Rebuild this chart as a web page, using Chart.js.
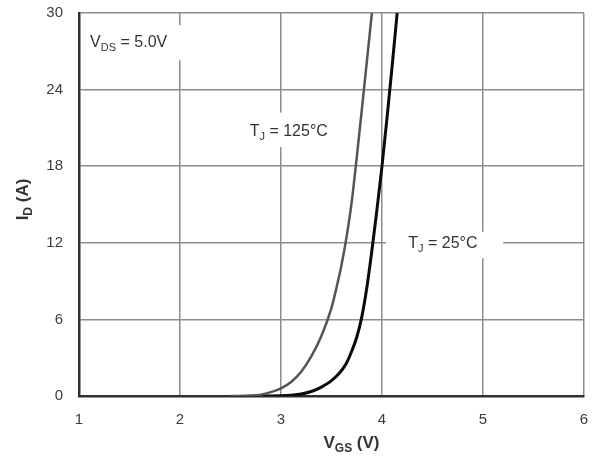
<!DOCTYPE html>
<html>
<head>
<meta charset="utf-8">
<script src="https://cdn.jsdelivr.net/npm/chart.js@4.4.1/dist/chart.umd.min.js"></script>
<style>
  html, body { margin: 0; padding: 0; background: #ffffff; }
  #wrap { width: 594px; height: 461px; }
</style>
</head>
<body>
<div id="wrap"><canvas id="c" width="594" height="461"></canvas></div>
<script>
// Axis ranges / tick labels
const vgsTicks = [1, 2, 3, 4, 5, 6];
const idTicks = [0, 6, 12, 18, 24, 30];

// Transfer characteristics, TJ = 125 °C
const vgs125 = [2.5, 2.7, 2.8, 2.9, 3.0, 3.1, 3.2, 3.3, 3.4, 3.5, 3.55, 3.6, 3.65, 3.7, 3.75, 3.8, 3.85, 3.9];
const id125  = [0, 0.03, 0.1, 0.3, 0.6, 1.1, 1.9, 3.1, 4.7, 6.9, 8.5, 10.3, 12.5, 15.2, 18.7, 22.4, 26.2, 30];

// Transfer characteristics, TJ = 25 °C
const vgs25 = [2.8, 3.0, 3.1, 3.2, 3.3, 3.4, 3.5, 3.6, 3.65, 3.7, 3.75, 3.8, 3.85, 3.9, 3.95, 4.0, 4.05, 4.1, 4.15];
const id25  = [0, 0.02, 0.06, 0.15, 0.35, 0.7, 1.2, 2.0, 2.6, 3.5, 4.6, 6.2, 8.5, 11.4, 14.6, 18, 21.8, 25.8, 30];

const toPoints = (xs, ys) => xs.map((x, k) => ({ x: x, y: ys[k] }));

const FONT = '"Liberation Sans", Arial, sans-serif';
const TEXT = '#333333';

// Text with subscripts: parts are [string, isSubscript]
function richWidth(ctx, parts, size, subSize, weight) {
  let w = 0;
  for (const [t, sub] of parts) {
    ctx.font = weight + ' ' + (sub ? subSize : size) + 'px ' + FONT;
    w += ctx.measureText(t).width;
  }
  return w;
}
function drawRich(ctx, parts, x, y, size, subSize, weight) {
  ctx.textBaseline = 'alphabetic';
  ctx.textAlign = 'left';
  let cx = x;
  for (const [t, sub] of parts) {
    ctx.font = weight + ' ' + (sub ? subSize : size) + 'px ' + FONT;
    ctx.fillText(t, cx, sub ? y + 4 : y);
    cx += ctx.measureText(t).width;
  }
}

// In-plot labels, anchored in data units, with white backing boxes
const notes = [
  { parts: [['V', 0], ['DS', 1], [' = 5.0V', 0]], at: [1.11, 27.3], box: [1.03, 2.12, 29.05, 26.3] },
  { parts: [['T', 0], ['J', 1], [' = 125\u00B0C', 0]], at: [2.69, 20.4], box: [2.61, 3.63, 22.2, 19.5] },
  { parts: [['T', 0], ['J', 1], [' = 25\u00B0C', 0]], at: [4.26, 11.6], box: [4.04, 5.2, 12.85, 10.8] }
];

const labelPlugin = {
  id: 'labels',
  beforeDatasetsDraw(chart) {
    const { ctx, scales: { x, y } } = chart;
    ctx.save();
    for (const n of notes) {
      const x0 = x.getPixelForValue(n.box[0]), x1 = x.getPixelForValue(n.box[1]);
      const y0 = y.getPixelForValue(n.box[2]), y1 = y.getPixelForValue(n.box[3]);
      ctx.fillStyle = '#ffffff';
      ctx.fillRect(x0, y0, x1 - x0, y1 - y0);
      ctx.fillStyle = TEXT;
      drawRich(ctx, n.parts, x.getPixelForValue(n.at[0]), y.getPixelForValue(n.at[1]), 16, 11, 'normal');
    }
    ctx.restore();
  },
  afterDraw(chart) {
    const { ctx, chartArea: a } = chart;
    ctx.save();
    ctx.fillStyle = TEXT;
    // x-axis title
    const xt = [['V', 0], ['GS', 1], [' (V)', 0]];
    const xw = richWidth(ctx, xt, 17, 12, 'bold');
    drawRich(ctx, xt, (a.left + a.right) / 2 + 20 - xw / 2, a.bottom + 52, 17, 12, 'bold');
    // y-axis title
    const yt = [['I', 0], ['D', 1], [' (A)', 0]];
    const yw = richWidth(ctx, yt, 17, 12, 'bold');
    ctx.translate(a.left - 51, (a.top + a.bottom) / 2 - 5);
    ctx.rotate(-Math.PI / 2);
    drawRich(ctx, yt, -yw / 2, 0, 17, 12, 'bold');
    ctx.restore();
  }
};

new Chart(document.getElementById('c'), {
  type: 'line',
  data: {
    datasets: [
      {
        label: 'TJ = 125\u00B0C',
        data: toPoints(vgs125, id125),
        borderColor: '#555555',
        borderWidth: 2.5,
        pointRadius: 0,
        cubicInterpolationMode: 'monotone',
        fill: false
      },
      {
        label: 'TJ = 25\u00B0C',
        data: toPoints(vgs25, id25),
        borderColor: '#0a0a0a',
        borderWidth: 3,
        pointRadius: 0,
        cubicInterpolationMode: 'monotone',
        fill: false
      }
    ]
  },
  options: {
    responsive: false,
    animation: false,
    devicePixelRatio: 1,
    layout: { padding: { top: 13, right: 10, left: 0, bottom: 0 } },
    plugins: {
      legend: { display: false },
      tooltip: { enabled: false }
    },
    scales: {
      x: {
        type: 'linear',
        min: vgsTicks[0],
        max: vgsTicks[vgsTicks.length - 1],
        afterBuildTicks: s => { s.ticks = vgsTicks.map(v => ({ value: v })); },
        afterFit: s => { s.height = 65; s.paddingLeft = 0; s.paddingRight = 0; },
        ticks: { color: '#3c3c3c', font: { family: FONT, size: 15 }, padding: 15, maxRotation: 0 },
        grid: { color: '#8c8c8c', lineWidth: 1.5, drawTicks: false },
        border: { color: '#2e2e2e', width: 2.5 }
      },
      y: {
        type: 'linear',
        min: idTicks[0],
        max: idTicks[idTicks.length - 1],
        afterBuildTicks: s => { s.ticks = idTicks.map(v => ({ value: v })); },
        afterFit: s => { s.width = 79; s.paddingTop = 0; s.paddingBottom = 0; },
        ticks: { color: '#3c3c3c', font: { family: FONT, size: 15 }, padding: 16 },
        grid: { color: '#8c8c8c', lineWidth: 1.5, drawTicks: false },
        border: { color: '#2e2e2e', width: 2.5 }
      }
    }
  },
  plugins: [labelPlugin]
});
</script>
</body>
</html>
